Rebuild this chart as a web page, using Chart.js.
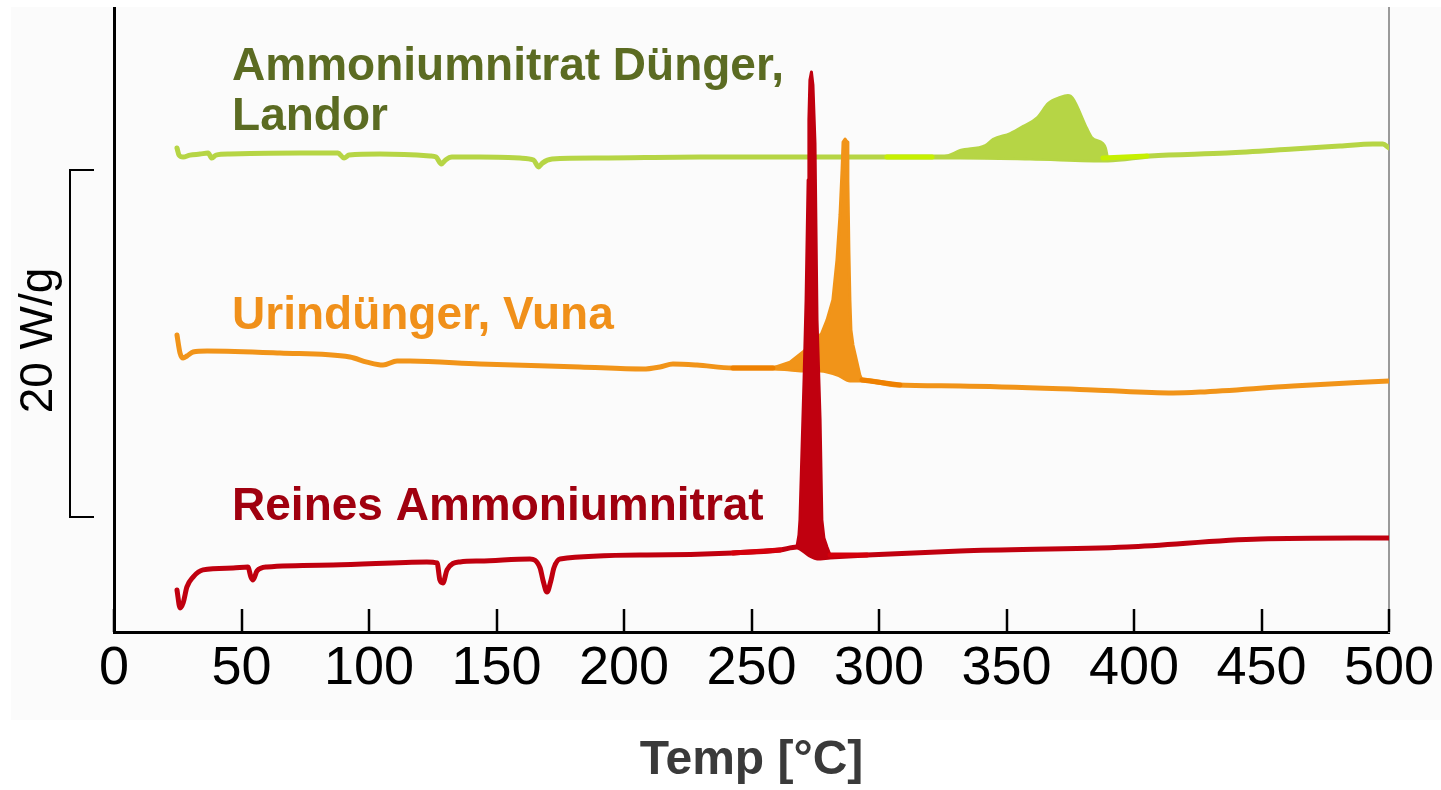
<!DOCTYPE html>
<html>
<head>
<meta charset="utf-8">
<script src="https://cdn.jsdelivr.net/npm/chart.js@4.4.1/dist/chart.umd.min.js"></script>
<style>
  html, body { margin: 0; padding: 0; background: #fff; }
  #wrap { width: 1441px; height: 790px; }
</style>
</head>
<body>
<div id="wrap"><canvas id="dscChart"></canvas></div>
<script>
// x-Achse: Temperatur [°C]
const tempTicks = [0, 50, 100, 150, 200, 250, 300, 350, 400, 450, 500];

// Ammoniumnitrat Dünger, Landor (W/g, versetzt)
const greenTemp = [24.7, 25.5, 27.1, 29.8, 33.7, 36.9, 38.4, 40.0, 45.5, 72.9, 87.8, 90.2, 92.2, 104.3, 123.9, 126.3, 128.4, 130.0, 132.5, 143.5, 159.2, 164.5, 166.5, 168.0, 171.8, 190.6, 229.8, 269.0, 308.2, 331.8, 359.2, 389.8, 406.3, 436.5, 462.4, 480.8, 493.7, 497.6, 500];
const greenVal  = [21.27, 20.86, 20.75, 20.86, 20.92, 20.98, 20.69, 20.86, 20.92, 20.98, 20.98, 20.69, 20.86, 20.92, 20.81, 20.75, 20.35, 20.58, 20.75, 20.75, 20.69, 20.58, 20.18, 20.40, 20.63, 20.69, 20.75, 20.75, 20.75, 20.75, 20.69, 20.58, 20.81, 20.98, 21.21, 21.38, 21.50, 21.50, 21.27];
const greenHumpTemp = [322.0, 327.1, 331.8, 341.6, 344.7, 351.4, 356.5, 362.0, 366.3, 371.0, 374.1, 376.1, 381.6, 383.5, 387.8, 389.0, 389.8];
const greenHumpVal  = [20.75, 20.86, 21.15, 21.44, 21.79, 22.13, 22.54, 23.05, 23.86, 24.21, 24.32, 24.15, 22.42, 21.90, 21.56, 21.27, 20.69];
const greenMarkTemp = [303.1, 320.8, 321.0, 387.8, 405.1];
const greenMarkVal  = [20.75, 20.75, null, 20.69, 20.81];

// Urindünger, Vuna
const orangeTemp = [24.7, 25.9, 27.1, 28.6, 31.0, 36.5, 65.1, 92.5, 99.2, 105.5, 111.0, 116.1, 143.5, 182.7, 207.5, 214.1, 219.2, 228.6, 242.7, 258.4, 265.1, 271.0, 276.9, 284.7, 288.6, 293.3, 307.1, 331.8, 383.9, 415.3, 425.9, 462.4, 500];
const orangeVal  = [10.49, 9.45, 9.16, 9.28, 9.51, 9.57, 9.45, 9.22, 8.93, 8.76, 8.99, 8.99, 8.82, 8.65, 8.53, 8.65, 8.82, 8.76, 8.59, 8.59, 8.53, 8.47, 8.47, 8.18, 7.90, 7.90, 7.61, 7.55, 7.32, 7.15, 7.20, 7.55, 7.84];
const orangePeakTemp = [258.4, 265.1, 270.2, 274.9, 277.6, 279.6, 281.9, 283.5, 284.7, 285.5, 285.9, 286.7, 287.5, 287.8, 288.2, 288.6, 289.0, 289.8, 291.4, 292.5, 293.3];
const orangePeakVal  = [8.59, 8.93, 9.51, 10.09, 10.61, 11.35, 12.51, 14.81, 17.41, 20.0, 21.61, 21.79, 21.61, 19.42, 15.39, 12.51, 10.78, 9.91, 8.88, 8.18, 7.90];
const orangeMarkTemp = [242.7, 258.4, 258.6, 293.3, 308.2];
const orangeMarkVal  = [8.59, 8.59, null, 7.90, 7.61];

// Reines Ammoniumnitrat
const redTemp = [24.7, 25.9, 27.1, 28.6, 31.0, 34.9, 46.7, 52.5, 53.7, 54.5, 56.1, 60.0, 85.9, 122.7, 126.7, 127.8, 129.0, 130.6, 135.7, 143.5, 163.1, 167.1, 168.2, 169.8, 171.4, 172.5, 174.9, 209.0, 242.7, 261.2, 267.8, 272.9, 275.7, 280.8, 295.3, 331.8, 397.3, 449.4, 500];
const redVal  = [-4.21, -5.24, -4.96, -4.03, -3.46, -3.05, -2.94, -2.88, -3.46, -3.63, -3.11, -2.88, -2.77, -2.59, -2.65, -3.63, -3.80, -3.05, -2.59, -2.54, -2.42, -2.94, -3.63, -4.32, -3.63, -2.94, -2.42, -2.19, -2.07, -1.90, -1.73, -2.19, -2.36, -2.31, -2.19, -1.96, -1.73, -1.27, -1.21];
const redSpikeTemp = [267.8, 268.6, 269.0, 269.8, 270.6, 271.4, 272.2, 272.5, 272.9, 273.5, 274.1, 274.9, 275.7, 276.9, 277.6, 278.4, 279.6, 280.8];
const redSpikeVal  = [-1.73, -1.04, -0.17, 3.86, 7.90, 12.51, 19.42, 22.88, 25.19, 25.65, 24.90, 21.56, 11.35, 5.59, -0.17, -1.21, -1.73, -2.19];
const redMarkTemp = [242.7, 261.2, 261.4, 280.8, 295.3];
const redMarkVal  = [-2.07, -1.90, null, -2.19, -2.19];

const RED = '#c0000f', ORANGE = '#f19419', GREEN = '#b6d545';

function pts(xs, ys) {
  return xs.map((x, i) => ({ x: x, y: ys[i] }));
}

function line(data, color, extra) {
  return Object.assign({
    data: data,
    borderColor: color,
    backgroundColor: color,
    borderWidth: 5,
    pointRadius: 0,
    cubicInterpolationMode: 'monotone',
    borderCapStyle: 'round',
    borderJoinStyle: 'round',
    spanGaps: false,
    fill: false
  }, extra || {});
}

// Beschriftungen der Kurven
const seriesLabels = [
  { text: 'Ammoniumnitrat Dünger,', color: '#5b6b22', t: 46.3, v: 25.19 },
  { text: 'Landor', color: '#5b6b22', t: 46.3, v: 22.31 },
  { text: 'Urindünger, Vuna', color: '#f0901a', t: 46.3, v: 10.84 },
  { text: 'Reines Ammoniumnitrat', color: '#a0000f', t: 46.3, v: -0.17 }
];

const decor = {
  id: 'decor',
  beforeDraw(chart) {
    const ctx = chart.ctx;
    ctx.save();
    ctx.fillStyle = '#fbfbfb';
    ctx.fillRect(11, 7, 1430, 713);
    ctx.restore();
  },
  beforeDatasetsDraw(chart) {
    const { ctx, scales: { x, y } } = chart;
    ctx.save();
    ctx.font = 'bold 46px "Liberation Sans", Arial, sans-serif';
    ctx.textAlign = 'left';
    ctx.textBaseline = 'alphabetic';
    seriesLabels.forEach(l => {
      ctx.fillStyle = l.color;
      ctx.fillText(l.text, x.getPixelForValue(l.t), y.getPixelForValue(l.v));
    });
    ctx.restore();
  },
  afterDraw(chart) {
    const { ctx, chartArea, scales: { x, y } } = chart;
    ctx.save();
    // Ticks nach innen
    ctx.strokeStyle = '#000';
    ctx.lineWidth = 2.5;
    tempTicks.forEach(t => {
      const px = Math.round(x.getPixelForValue(t));
      ctx.beginPath();
      ctx.moveTo(px, chartArea.bottom);
      ctx.lineTo(px, chartArea.bottom - 23);
      ctx.stroke();
    });
    // Maßstab 20 W/g
    const y0 = y.getPixelForValue(0), y20 = y.getPixelForValue(20);
    ctx.lineWidth = 2;
    ctx.beginPath();
    ctx.moveTo(94, y20);
    ctx.lineTo(70, y20);
    ctx.lineTo(70, y0);
    ctx.lineTo(94, y0);
    ctx.stroke();
    ctx.translate(52, (y0 + y20) / 2 - 3);
    ctx.rotate(-Math.PI / 2);
    ctx.fillStyle = '#000';
    ctx.font = '46px "Liberation Sans", Arial, sans-serif';
    ctx.textAlign = 'center';
    ctx.textBaseline = 'alphabetic';
    ctx.fillText('20 W/g', 0, 0);
    ctx.restore();
  }
};

new Chart(document.getElementById('dscChart'), {
  type: 'line',
  data: {
    datasets: [
      line(pts(redMarkTemp, redMarkVal), '#d4000c', { cubicInterpolationMode: 'default', tension: 0 }),
      line(pts(redSpikeTemp, redSpikeVal), RED, { borderWidth: 3, cubicInterpolationMode: 'default', tension: 0, fill: 2 }),
      line(pts(redTemp, redVal), RED),
      line(pts(orangeMarkTemp, orangeMarkVal), '#ee8000', { cubicInterpolationMode: 'default', tension: 0 }),
      line(pts(orangePeakTemp, orangePeakVal), ORANGE, { borderWidth: 3, cubicInterpolationMode: 'default', tension: 0, fill: 5 }),
      line(pts(orangeTemp, orangeVal), ORANGE),
      line(pts(greenMarkTemp, greenMarkVal), '#c6f000', { cubicInterpolationMode: 'default', tension: 0 }),
      line(pts(greenHumpTemp, greenHumpVal), GREEN, { borderWidth: 2, fill: 8 }),
      line(pts(greenTemp, greenVal), GREEN)
    ]
  },
  options: {
    responsive: true,
    maintainAspectRatio: false,
    animation: false,
    devicePixelRatio: 1,
    layout: { padding: { left: 114, right: 52, top: 8, bottom: 0 } },
    plugins: {
      legend: { display: false },
      tooltip: { enabled: false }
    },
    scales: {
      x: {
        type: 'linear',
        min: 0,
        max: 500,
        afterFit(scale) { scale.height = 158; },
        afterBuildTicks(scale) { scale.ticks = tempTicks.map(v => ({ value: v })); },
        grid: { display: false, drawTicks: false },
        border: { display: true, color: '#000', width: 3 },
        ticks: {
          padding: 5,
          color: '#000',
          maxRotation: 0,
          autoSkip: false,
          font: { family: '"Liberation Sans", Arial, sans-serif', size: 54 }
        },
        title: {
          display: true,
          text: 'Temp [°C]',
          color: '#3a3a3a',
          padding: { top: 0, bottom: 0 },
          font: { family: '"Liberation Sans", Arial, sans-serif', size: 48, weight: 'bold' }
        }
      },
      y: {
        type: 'linear',
        min: -6.63,
        max: 29.34,
        afterFit(scale) { scale.width = 0; },
        grid: { display: false, drawTicks: false },
        border: { display: true, color: '#000', width: 3 },
        ticks: { display: false }
      },
      y2: {
        type: 'linear',
        position: 'right',
        display: true,
        min: 0,
        max: 1,
        afterFit(scale) { scale.width = 0; },
        grid: { display: false, drawTicks: false },
        border: { display: true, color: '#9a9a9a', width: 2 },
        ticks: { display: false }
      }
    }
  },
  plugins: [decor]
});
</script>
</body>
</html>
